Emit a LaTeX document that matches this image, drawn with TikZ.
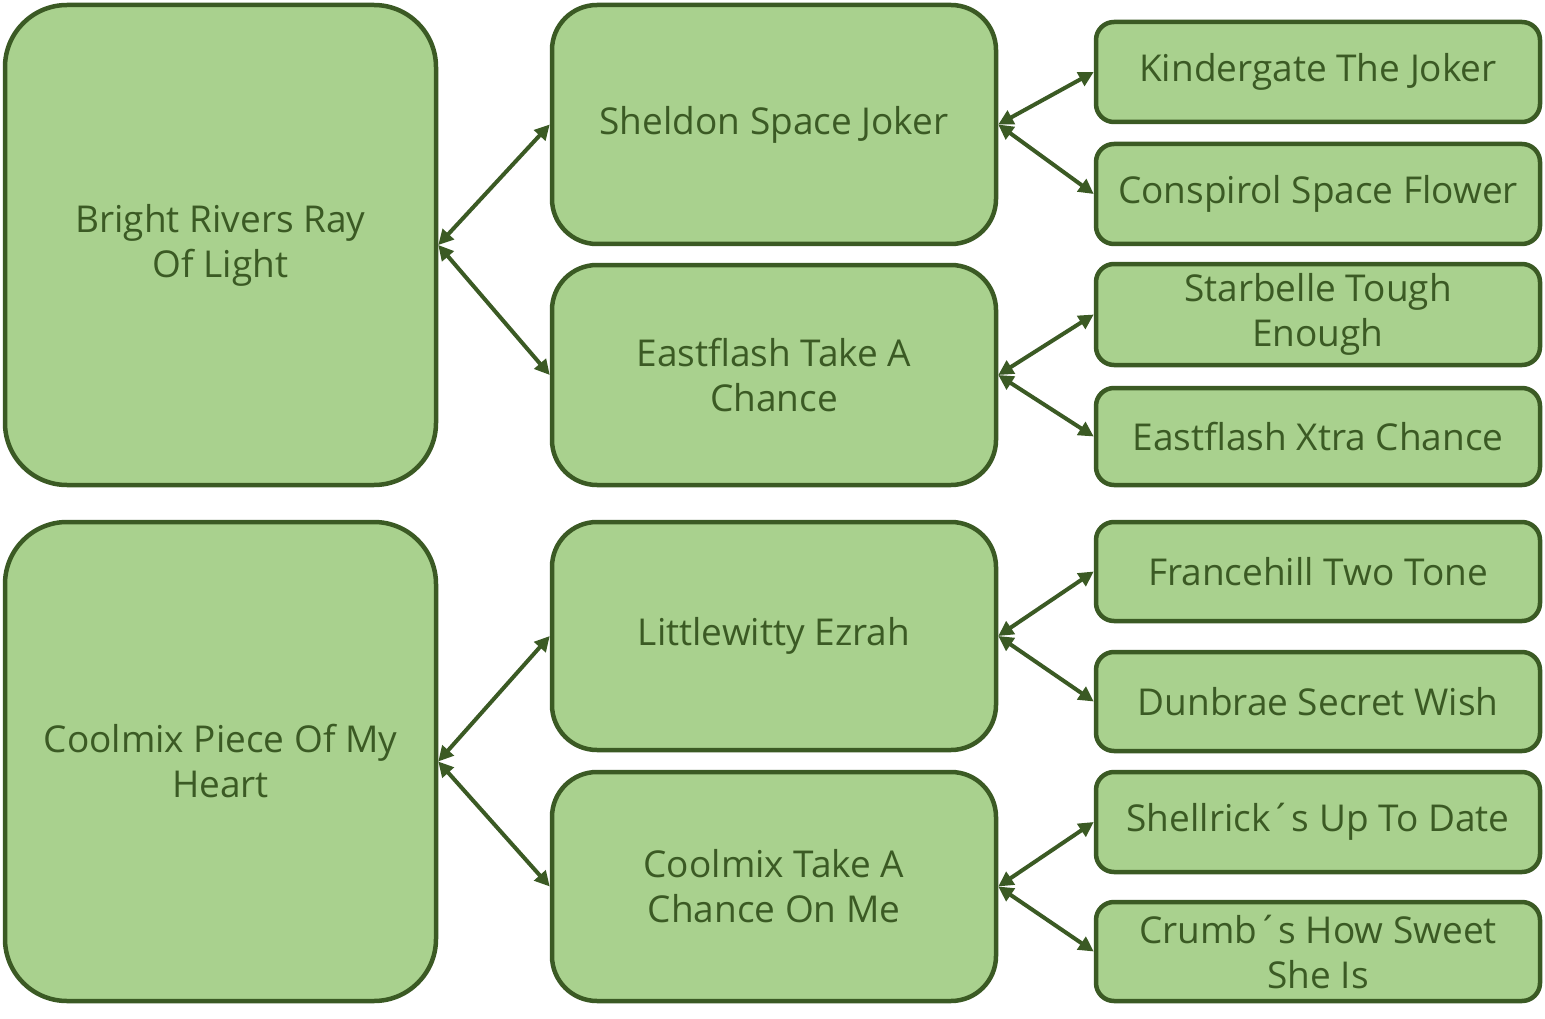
\documentclass[tikz,border=0pt]{standalone}
\usepackage{fontspec}
\setmainfont{Open Sans}
\usetikzlibrary{arrows.meta}
\definecolor{boxfill}{HTML}{A9D18E}
\definecolor{boxline}{HTML}{3B5A24}
\definecolor{boxtext}{HTML}{3B5A24}
\tikzset{
  base/.style={draw=boxline, fill=boxfill, line width=4.5pt, text=boxtext,
    font=\fontsize{37}{45}\selectfont, align=center, inner sep=0pt, minimum width=444pt},
  bigbox/.style={base, rounded corners=62pt, minimum width=431pt},
  midbox/.style={base, rounded corners=45pt},
  smallbox/.style={base, rounded corners=18pt},
  link/.style={draw=boxline, line width=4pt, {Triangle[length=15pt,width=15pt]}-{Triangle[length=15pt,width=15pt]}}
}
\begin{document}
\begin{tikzpicture}[x=1pt,y=-1pt]
\useasboundingbox (0,0) rectangle (1545,1019);
\node[bigbox, minimum height=480pt] (l1) at (220.5,245) {Bright Rivers Ray\\Of Light};
\node[bigbox, minimum height=479pt] (l2) at (220.5,761.5) {Coolmix Piece Of My\\Heart};
\node[midbox, minimum height=239pt] (m1) at (774,124.5) {Sheldon Space Joker};
\node[midbox, minimum height=220pt] (m2) at (774,375) {Eastflash Take A\\Chance};
\node[midbox, minimum height=228pt] (m3) at (774,636) {Littlewitty Ezrah};
\node[midbox, minimum height=229pt] (m4) at (774,886.5) {Coolmix Take A\\Chance On Me};
\node[smallbox, minimum height=100pt] (r1) at (1318,72) {Kindergate The Joker};
\node[smallbox, minimum height=100pt] (r2) at (1318,194) {Conspirol Space Flower};
\node[smallbox, minimum height=101pt] (r3) at (1318,314.5) {Starbelle Tough\\Enough};
\node[smallbox, minimum height=97pt] (r4) at (1318,436.5) {Eastflash Xtra Chance};
\node[smallbox, minimum height=99pt] (r5) at (1318,571.5) {Francehill Two Tone};
\node[smallbox, minimum height=99pt] (r6) at (1318,701.5) {Dunbrae Secret Wish};
\node[smallbox, minimum height=100pt] (r7) at (1318,822) {Shellrick´s Up To Date};
\node[smallbox, minimum height=99pt] (r8) at (1318,951.5) {Crumb´s How Sweet\\She Is};
\draw[link] (l1.east) -- (m1.west);
\draw[link] (l1.east) -- (m2.west);
\draw[link] (l2.east) -- (m3.west);
\draw[link] (l2.east) -- (m4.west);
\draw[link] (m1.east) -- (r1.west);
\draw[link] (m1.east) -- (r2.west);
\draw[link] (m2.east) -- (r3.west);
\draw[link] (m2.east) -- (r4.west);
\draw[link] (m3.east) -- (r5.west);
\draw[link] (m3.east) -- (r6.west);
\draw[link] (m4.east) -- (r7.west);
\draw[link] (m4.east) -- (r8.west);
\end{tikzpicture}
\end{document}
